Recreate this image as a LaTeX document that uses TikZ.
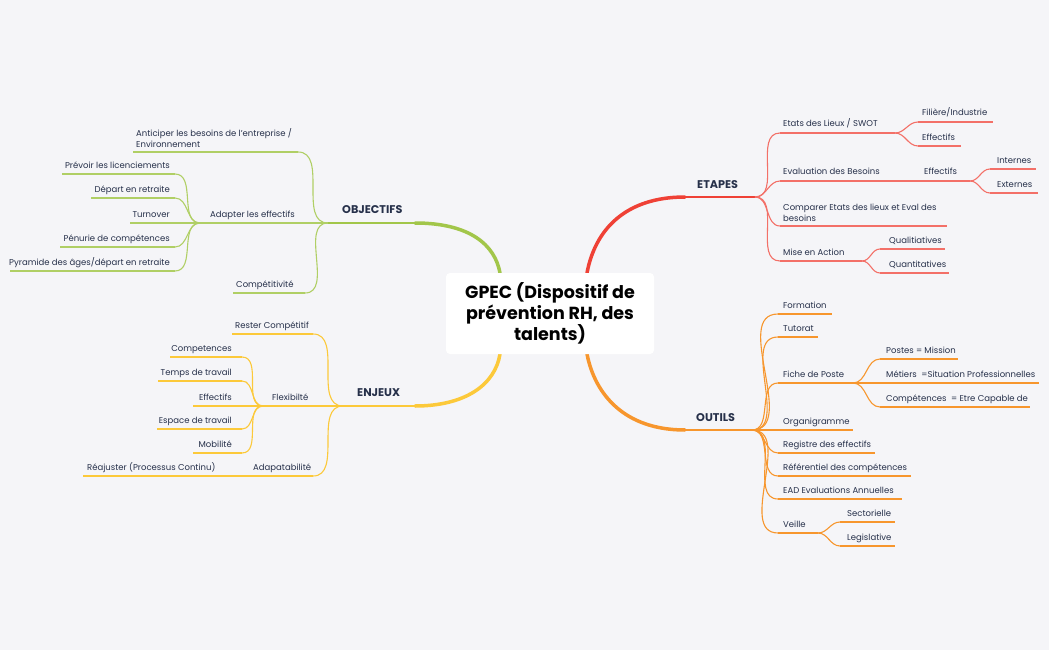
\documentclass[tikz,border=0pt]{standalone}
\usepackage{fontspec}
\setmainfont{Poppins}
\definecolor{bg}{HTML}{F5F5F8}
\definecolor{txt}{HTML}{26304A}
\definecolor{cg}{HTML}{A2C64A}
\definecolor{cr}{HTML}{EF4136}
\definecolor{cy}{HTML}{FCC93A}
\definecolor{co}{HTML}{F7962D}
\newcommand\ul[5]{\coordinate (#1s) at (#2,#4);\coordinate (#1e) at (#3,#4);\draw[#5] (#1s)--(#1e);}
\tikzset{
 lt/.style={font=\fontsize{8.5}{11}\selectfont,text=txt,inner sep=0pt,align=left},
 tt/.style={font=\fontsize{11.2}{13}\selectfont\bfseries,text=txt,inner sep=0pt},
 lg/.style={cg!85!white,line width=1.1pt}, lr/.style={cr!75!white,line width=1.1pt},
 ly/.style={cy,line width=1.1pt}, lo/.style={co,line width=1.1pt},
 tg/.style={cg,line width=2pt}, tr/.style={cr,line width=2pt},
 ty/.style={cy,line width=2pt}, to/.style={co,line width=2pt},
 thick main/.style={line width=3.5pt,line cap=round},
 L/.style={out=180,in=0}, R/.style={out=0,in=180}
}
\begin{document}
\begin{tikzpicture}[x=1pt,y=-1pt]
\fill[bg] (0,0) rectangle (1049,650);
\useasboundingbox (0,0) rectangle (1049,650);
% main branches
\coordinate (c1) at (500,273);\coordinate (c2) at (587,273);
\coordinate (c3) at (587,354);\coordinate (c4) at (500,354);
\ul{obj}{328}{415}{223}{tg}
\ul{et}{685}{755}{197}{tr}
\ul{out}{685}{752}{430}{to}
\ul{enj}{343}{415}{406}{ty}
\draw[cg,thick main] (obje) .. controls (470,223) and (495,245) .. (c1);
\draw[cr,thick main] (ets) .. controls (625,197) and (595,230) .. (c2);
\draw[co,thick main] (outs) .. controls (625,430) and (595,395) .. (c3);
\draw[cy,thick main] (enje) .. controls (465,406) and (495,385) .. (c4);
\node[tt,anchor=base west] (tobj) at (342,213) {OBJECTIFS};
\node[tt,anchor=base west] (tet) at (697,188) {ETAPES};
\node[tt,anchor=base west] (tout) at (696,421) {OUTILS};
\node[tt,anchor=base west] (tenj) at (357,396) {ENJEUX};
% OBJECTIFS
\ul{ant}{133}{298}{152}{lg}\ul{adapt}{200}{328}{223}{lg}\ul{comp}{233}{305}{293}{lg}
\ul{prev}{62}{175}{174}{lg}\ul{dep}{91}{175}{198}{lg}\ul{turn}{130}{175}{223}{lg}
\ul{pen}{60}{175}{247}{lg}\ul{pyr}{10}{175}{271}{lg}
\foreach \t in {ant,adapt,comp} \draw[lg] (objs) to[L] (\t e);
\foreach \t in {prev,dep,turn,pen,pyr} \draw[lg] (adapts) to[L] (\t e);
\node[lt,anchor=south west] (n1) at (136,148) {Anticiper les besoins de l'entreprise /\\Environnement};
\node[lt,anchor=base west] (n2) at (210,217) {Adapter les effectifs};
\node[lt,anchor=base west] (n3) at (236,287) {Compétitivité};
\node[lt,anchor=base east] (n4) at (170,168) {Prévoir les licenciements};
\node[lt,anchor=base east] (n5) at (170,192) {Départ en retraite};
\node[lt,anchor=base east] (n6) at (170,217) {Turnover};
\node[lt,anchor=base east] (n7) at (170,241) {Pénurie de compétences};
\node[lt,anchor=base east] (n8) at (170,265) {Pyramide des âges/départ en retraite};
% ETAPES
\ul{etl}{780}{895}{133}{lr}\ul{fil}{918}{993}{122}{lr}\ul{effa}{918}{961}{146}{lr}
\ul{evb}{780}{920}{181}{lr}\ul{effb}{920}{970}{181}{lr}\ul{int}{990}{1036}{169}{lr}\ul{ext}{990}{1038}{193}{lr}
\ul{cmp}{780}{947}{226}{lr}\ul{mis}{780}{862}{261}{lr}\ul{qual}{880}{945}{249}{lr}\ul{quan}{880}{949}{273}{lr}
\foreach \t in {etl,evb,cmp,mis} \draw[lr] (ete) to[R] (\t s);
\foreach \t in {fil,effa} \draw[lr] (etle) to[R] (\t s);
\foreach \t in {int,ext} \draw[lr] (effbe) to[R] (\t s);
\foreach \t in {qual,quan} \draw[lr] (mise) to[R] (\t s);
\node[lt,anchor=base west] (e1) at (783,127) {Etats des Lieux / SWOT};
\node[lt,anchor=base west] (e2) at (922,116) {Filière/Industrie};
\node[lt,anchor=base west] (e3) at (922,140) {Effectifs};
\node[lt,anchor=base west] (e4) at (783,175) {Evaluation des Besoins};
\node[lt,anchor=base west] (e5) at (924,175) {Effectifs};
\node[lt,anchor=base west] (e6) at (997,163) {Internes};
\node[lt,anchor=base west] (e7) at (997,187) {Externes};
\node[lt,anchor=south west] (e8) at (783,222) {Comparer Etats des lieux et Eval des\\besoins};
\node[lt,anchor=base west] (e9) at (783,255) {Mise en Action};
\node[lt,anchor=base west] (e10) at (889,243) {Qualitiatives};
\node[lt,anchor=base west] (e11) at (889,267) {Quantitatives};
% OUTILS
\ul{for}{778}{832}{314}{lo}\ul{tut}{778}{818}{337}{lo}\ul{fic}{778}{853}{383}{lo}
\ul{pos}{880}{958}{359}{lo}\ul{met}{880}{1039}{383}{lo}\ul{cpt}{880}{1030}{407}{lo}
\ul{org}{778}{853}{430}{lo}\ul{reg}{778}{875}{453}{lo}\ul{ref}{778}{911}{476}{lo}
\ul{ead}{778}{902}{499}{lo}\ul{vei}{778}{818}{533}{lo}\ul{sec}{840}{895}{522}{lo}\ul{leg}{840}{895}{546}{lo}
\foreach \t in {for,tut,fic,org,reg,ref,ead,vei} \draw[lo] (oute) to[R] (\t s);
\foreach \t in {pos,met,cpt} \draw[lo] (fice) to[R] (\t s);
\foreach \t in {sec,leg} \draw[lo] (veie) to[R] (\t s);
\node[lt,anchor=base west] (o1) at (783,308) {Formation};
\node[lt,anchor=base west] (o2) at (783,331) {Tutorat};
\node[lt,anchor=base west] (o3) at (783,377) {Fiche de Poste};
\node[lt,anchor=base west] (o4) at (886,353) {Postes = Mission};
\node[lt,anchor=base west] (o5) at (886,377) {Métiers\ \ =Situation Professionnelles};
\node[lt,anchor=base west] (o6) at (886,401) {Compétences\ \ = Etre Capable de};
\node[lt,anchor=base west] (o7) at (783,424) {Organigramme};
\node[lt,anchor=base west] (o8) at (783,447) {Registre des effectifs};
\node[lt,anchor=base west] (o9) at (783,470) {Référentiel des compétences};
\node[lt,anchor=base west] (o10) at (783,493) {EAD Evaluations Annuelles};
\node[lt,anchor=base west] (o11) at (783,527) {Veille};
\node[lt,anchor=base west] (o12) at (847,516) {Sectorielle};
\node[lt,anchor=base west] (o13) at (847,540) {Legislative};
% ENJEUX
\ul{rest}{232}{313}{334}{ly}\ul{flex}{263}{343}{406}{ly}\ul{adap}{250}{313}{476}{ly}\ul{reaj}{83}{250}{476}{ly}
\ul{cpe}{170}{242}{357}{ly}\ul{tmp}{158}{242}{381}{ly}\ul{effc}{193}{242}{406}{ly}
\ul{esp}{157}{242}{429}{ly}\ul{mob}{193}{242}{453}{ly}
\foreach \t in {rest,flex,adap} \draw[ly] (enjs) to[L] (\t e);
\foreach \t in {cpe,tmp,effc,esp,mob} \draw[ly] (flexs) to[L] (\t e);
\node[lt,anchor=base west] (j1) at (235,328) {Rester Compétitif};
\node[lt,anchor=base west] (j2) at (272,400) {Flexibilté};
\node[lt,anchor=base west] (j3) at (253,470) {Adapatabilité};
\node[lt,anchor=base west] (j4) at (87,470) {Réajuster (Processus Continu)};
\node[lt,anchor=base east] (j5) at (232,351) {Competences};
\node[lt,anchor=base east] (j6) at (232,375) {Temps de travail};
\node[lt,anchor=base east] (j7) at (232,400) {Effectifs};
\node[lt,anchor=base east] (j8) at (232,423) {Espace de travail};
\node[lt,anchor=base east] (j9) at (232,447) {Mobilité};
% centre
\node[fill=white,rounded corners=4pt,minimum width=208pt,minimum height=81pt,inner sep=0pt,
 font=\fontsize{17.5}{21}\selectfont\bfseries,text=black,align=center] (gpec) at (550,313.5)
 {GPEC (Dispositif de\\prévention RH, des\\talents)};
\end{tikzpicture}
\end{document}
